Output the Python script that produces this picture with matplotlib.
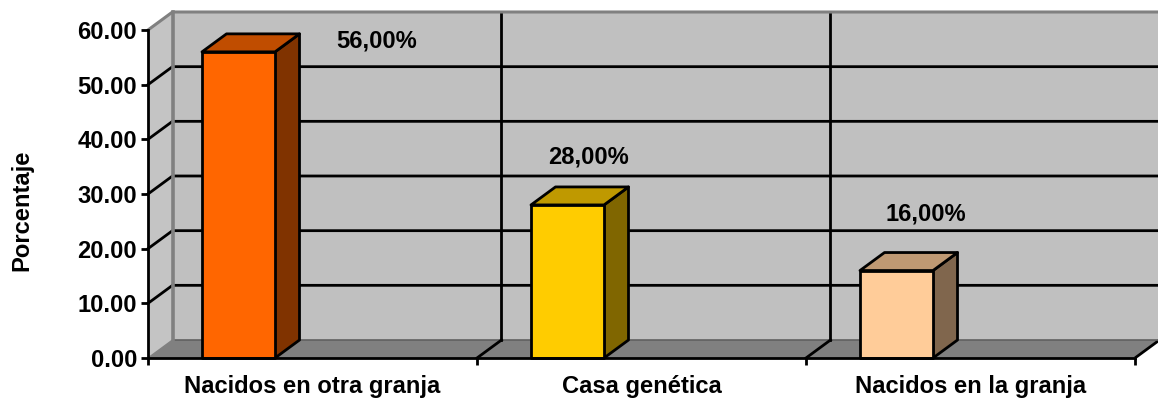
import matplotlib
matplotlib.use("Agg")
import matplotlib.pyplot as plt
from matplotlib.patches import Polygon

categories = ["Nacidos en otra granja", "Casa genética", "Nacidos en la granja"]
values = [56.0, 28.0, 16.0]
value_labels = ["56,00%", "28,00%", "16,00%"]
y_ticks = [0, 10, 20, 30, 40, 50, 60]
front_colors = ["#FF6600", "#FFCC00", "#FFCC99"]
top_colors = ["#C04D00", "#BF9900", "#BF9973"]
side_colors = ["#803300", "#806600", "#80664D"]
label_offsets = [(0.195, 2.5), (-0.162, 9.2), (-0.137, 10.8)]

W, H = 1158, 398
PX_X = 329.0          # pixels per category
PX_Y = 328.0 / 60     # pixels per percentage point
X0, Y0 = 148.0, 358.0 # pixel position of the chart origin
DX = 24.5 / PX_X      # 3D depth, category units
DY = 18.0 / PX_Y      # 3D depth, value units
BAR_L = 54.0 / PX_X
BAR_W = 73.0 / PX_X
FS = 17.1

plt.rcParams["font.family"] = ["Liberation Sans", "DejaVu Sans"]
plt.rcParams["font.weight"] = "bold"

fig = plt.figure(figsize=(W / 100, H / 100), dpi=100)
ax = fig.add_axes([0, 0, 1, 1])
ax.set_xlim(-X0 / PX_X, (W - X0) / PX_X)
ax.set_ylim(-(H - Y0) / PX_Y, Y0 / PX_Y)
ax.axis("off")

n = len(categories)
ymax = y_ticks[-1]
xend = n + 0.1
LW = 2.0
BLACK = "#000000"

# Back wall, side wall and floor
ax.add_patch(Polygon([(DX, DY), (xend, DY), (xend, ymax + DY), (DX, ymax + DY)],
                     fc="#C0C0C0", ec="none", zorder=1))
ax.add_patch(Polygon([(0, 0), (DX, DY), (DX, ymax + DY), (0, ymax)],
                     fc="#C4C4C4", ec="none", zorder=1))
ax.add_patch(Polygon([(0, 0), (n, 0), (n + DX, DY), (DX, DY)],
                     fc="#808080", ec="none", zorder=1))
ax.plot([n, n + DX], [0, DY], color=BLACK, lw=LW, zorder=2, solid_capstyle="butt")
ax.plot([DX, xend], [DY, DY], color="#606060", lw=1.2, zorder=2)

# Gridlines run along the side wall and across the back wall
for v in y_ticks[1:-1]:
    ax.plot([0, DX, xend], [v, v + DY, v + DY], color=BLACK, lw=LW, zorder=2)
for i in range(1, n):
    ax.plot([i + DX, i + DX], [DY, ymax + DY], color=BLACK, lw=LW, zorder=2)
    ax.plot([i, i + DX], [0, DY], color=BLACK, lw=LW, zorder=2)

# Grey wall edges
ax.plot([0, DX, xend], [ymax, ymax + DY, ymax + DY], color="#808080", lw=2.2, zorder=2)
ax.plot([DX, DX], [DY, ymax + DY], color="#808080", lw=2.6, zorder=2)
ax.plot([0, DX], [0, DY], color="#808080", lw=1.0, zorder=2)

# Axes and tick marks
ax.plot([0, 0], [0, ymax], color=BLACK, lw=LW, zorder=5, solid_capstyle="projecting")
ax.plot([0, n], [0, 0], color=BLACK, lw=LW, zorder=5, solid_capstyle="projecting")
tick_x = 7 / PX_X
tick_y = 7 / PX_Y
for v in y_ticks:
    ax.plot([-tick_x, 0], [v, v], color=BLACK, lw=LW, zorder=5, solid_capstyle="butt")
    ax.text(-11 / PX_X, v, f"{v:.2f}", ha="right", va="center_baseline", fontsize=FS)
for i in range(n + 1):
    ax.plot([i, i], [-tick_y, 0], color=BLACK, lw=LW, zorder=5, solid_capstyle="butt")

# Bars: front, top and side faces
for i, (v, fc, tc, sc) in enumerate(zip(values, front_colors, top_colors, side_colors)):
    l = i + BAR_L
    r = l + BAR_W
    style = dict(ec=BLACK, lw=LW, joinstyle="round", zorder=4)
    ax.add_patch(Polygon([(r, 0), (r + DX, DY), (r + DX, v + DY), (r, v)], fc=sc, **style))
    ax.add_patch(Polygon([(l, v), (r, v), (r + DX, v + DY), (l + DX, v + DY)], fc=tc, **style))
    ax.add_patch(Polygon([(l, 0), (r, 0), (r, v), (l, v)], fc=fc, **style))

# Value and category labels
for i, (v, txt, off) in enumerate(zip(values, value_labels, label_offsets)):
    ax.text(i + 0.5 + off[0], v + off[1], txt, ha="center", va="center_baseline", fontsize=FS)
for i, c in enumerate(categories):
    ax.text(i + 0.5, -26.5 / PX_Y, c, ha="center", va="center_baseline", fontsize=FS)

ax.text(-126 / PX_X, (358 - 210) / PX_Y, "Porcentaje", rotation=90,
        ha="center", va="center", fontsize=FS)

fig.savefig("out.png", dpi=100)
